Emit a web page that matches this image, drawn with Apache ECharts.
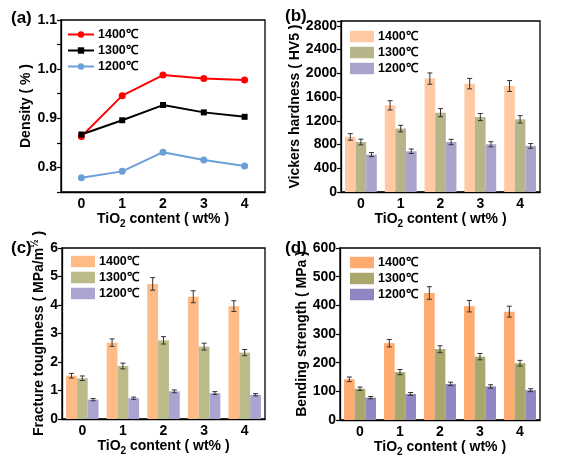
<!DOCTYPE html>
<html><head><meta charset="utf-8">
<script src="https://cdn.jsdelivr.net/npm/echarts@6/dist/echarts.min.js"></script>
<style>html,body{margin:0;padding:0;background:#fff}#c{width:580px;height:472px}</style>
</head><body><div id="c"></div>
<script>
const categories = ['0', '1', '2', '3', '4'];
const tempLabels = ['1400℃', '1300℃', '1200℃'];

// (a) Density
const density1400 = [0.863, 0.946, 0.988, 0.981, 0.978];
const density1300 = [0.867, 0.896, 0.927, 0.912, 0.903];
const density1200 = [0.779, 0.792, 0.831, 0.815, 0.803];

// (b) Vickers hardness
const hv1400 = [928, 1460, 1910, 1825, 1785];
const hv1300 = [842, 1068, 1336, 1262, 1224];
const hv1200 = [630, 686, 842, 804, 776];
const hvErr1400 = [55, 78, 95, 88, 92];
const hvErr1300 = [48, 55, 68, 60, 62];
const hvErr1200 = [34, 38, 45, 43, 40];

// (c) Fracture toughness
const kic1400 = [1.52, 2.68, 4.74, 4.29, 3.96];
const kic1300 = [1.43, 1.86, 2.76, 2.54, 2.33];
const kic1200 = [0.68, 0.73, 0.97, 0.91, 0.85];
const kicErr1400 = [0.08, 0.13, 0.22, 0.21, 0.19];
const kicErr1300 = [0.08, 0.10, 0.13, 0.12, 0.11];
const kicErr1200 = [0.04, 0.04, 0.05, 0.05, 0.04];

// (d) Bending strength
const bs1400 = [142, 268, 443, 397, 378];
const bs1300 = [109, 167, 247, 221, 198];
const bs1200 = [78, 91, 126, 117, 104];
const bsErr1400 = [8, 13, 22, 20, 19];
const bsErr1300 = [6, 9, 12, 11, 10];
const bsErr1200 = [4, 5, 6, 6, 5];

const FONT = 'Liberation Sans';
const txt = {fontFamily: FONT, fontWeight: 'bold', color: '#000'};

const grids = [
  {left: 61, top: 20, width: 204, height: 172},
  {left: 341, top: 21, width: 199, height: 171},
  {left: 62, top: 248, width: 203, height: 171},
  {left: 340, top: 248, width: 200, height: 172}
].map(g => Object.assign(g, {show: true, borderColor: '#000', borderWidth: 1.3, backgroundColor: 'transparent'}));

const xName = 'TiO{sub|2} content ( wt% )';
const xAxes = [0, 1, 2, 3].map(i => ({
  type: 'category', gridIndex: i, data: categories, boundaryGap: true,
  axisLine: {lineStyle: {color: '#000', width: 1.3}},
  axisTick: {alignWithLabel: true, length: 4, lineStyle: {color: '#000', width: 1.2}},
  axisLabel: Object.assign({fontSize: 14, margin: 5}, txt),
  name: xName, nameLocation: 'middle', nameGap: 18,
  nameTextStyle: Object.assign({fontSize: 14, rich: {
    sub: {fontFamily: FONT, fontWeight: 'bold', fontSize: 10, color: '#000', padding: [9, 0, 0, 0]}
  }}, txt)
}));

function yAxis(i, min, max, interval, name, gap, fmt, rich) {
  return {
    type: 'value', gridIndex: i, min: min, max: max, interval: interval,
    splitLine: {show: false},
    axisLine: {show: true, lineStyle: {color: '#000', width: 1.3}},
    axisTick: {show: true, length: 4, lineStyle: {color: '#000', width: 1.2}},
    axisLabel: Object.assign({fontSize: 14, margin: 4, formatter: fmt}, txt),
    name: name, nameLocation: 'middle', nameGap: gap,
    nameTextStyle: Object.assign({fontSize: 14, rich: rich || {}}, txt)
  };
}
const yAxes = [
  yAxis(0, 0.75, 1.1, 0.05, 'Density ( % )', 27, v => {
    const t = Math.round(v * 100);
    return (t % 10 === 0) ? (v).toFixed(1) : '';
  }),
  yAxis(1, 0, 2880, 400, 'Vickers hardness ( HV5 )', 38, v => (v % 400 === 0 ? String(v) : '')),
  yAxis(2, 0, 6, 1, 'Fracture toughness ( MPa/m{sup|½} )', 13, v => String(v), {
    sup: {fontFamily: FONT, fontWeight: 'bold', fontSize: 10, color: '#000', padding: [0, 0, 8, 0]}
  }),
  yAxis(3, 0, 600, 100, 'Bending strength ( MPa )', 31, v => String(v))
];

const series = [];
// (a) lines
const lineSets = [
  ['a1400', density1400, '#FF0000', 'circle'],
  ['a1300', density1300, '#000000', 'rect'],
  ['a1200', density1200, '#6A9FD8', 'circle']
];
lineSets.forEach(s => series.push({
  type: 'line', name: s[0], xAxisIndex: 0, yAxisIndex: 0, data: s[1],
  symbol: s[3], symbolSize: s[3] === 'rect' ? 6 : 7,
  lineStyle: {color: s[2], width: 1.9}, itemStyle: {color: s[2]}, z: 3
}));

function addBars(panel, gi, vals, errs, colors) {
  vals.forEach((v, k) => {
    series.push({
      type: 'bar', name: panel + tempLabels[k].slice(0, 4), xAxisIndex: gi, yAxisIndex: gi,
      data: v, barGap: 0, barCategoryGap: '20%', itemStyle: {color: colors[k]}
    });
  });
  vals.forEach((v, k) => {
    series.push({
      type: 'custom', name: 'err' + panel + k, xAxisIndex: gi, yAxisIndex: gi, z: 5,
      data: v.map((val, i) => [i, val, errs[k][i]]),
      renderItem: function (params, api) {
        const cat = api.value(0), val = api.value(1), e = api.value(2);
        const c = api.coord([cat, val]);
        const bw = api.size([1, 0])[0] * 0.8 / 3;
        const x = c[0] + (k - 1) * bw;
        const yt = api.coord([cat, val + e])[1];
        const yb = api.coord([cat, val - e])[1];
        const st = {stroke: '#333', lineWidth: 1};
        return {type: 'group', children: [
          {type: 'line', shape: {x1: x, y1: yt, x2: x, y2: yb}, style: st},
          {type: 'line', shape: {x1: x - 2.5, y1: yt, x2: x + 2.5, y2: yt}, style: st},
          {type: 'line', shape: {x1: x - 2.5, y1: yb, x2: x + 2.5, y2: yb}, style: st}
        ]};
      }
    });
  });
}
addBars('b', 1, [hv1400, hv1300, hv1200], [hvErr1400, hvErr1300, hvErr1200], ['#FFC9A3', '#B6B58A', '#ABA3CC']);
addBars('c', 2, [kic1400, kic1300, kic1200], [kicErr1400, kicErr1300, kicErr1200], ['#FFBB85', '#BBBA89', '#ABA4D0']);
addBars('d', 3, [bs1400, bs1300, bs1200], [bsErr1400, bsErr1300, bsErr1200], ['#FFAA6E', '#A9A76C', '#8F86C2']);

function legend(prefix, left, top, isLine) {
  return {
    data: ['1400', '1300', '1200'].map(t => prefix + t),
    left: left, top: top, orient: 'vertical', itemGap: 3,
    itemWidth: isLine ? 26 : 24, itemHeight: isLine ? 8 : 11.5,
    icon: isLine ? undefined : 'rect',
    formatter: n => n.slice(1) + '℃',
    textStyle: Object.assign({fontSize: 12.5, padding: [0, 0, 0, -1]}, txt),
    selectedMode: false
  };
}

const titleStyle = Object.assign({fontSize: 17}, txt);
const option = {
  animation: false,
  backgroundColor: '#fff',
  title: [
    {text: '(a)', left: 6, top: 5, textStyle: titleStyle},
    {text: '(b)', left: 280, top: 3, textStyle: titleStyle},
    {text: '(c)', left: 6, top: 235, textStyle: titleStyle},
    {text: '(d)', left: 280, top: 235, textStyle: titleStyle}
  ],
  legend: [
    legend('a', 62, 23, true),
    legend('b', 345, 25, false),
    legend('c', 66, 250, false),
    legend('d', 345, 251, false)
  ],
  grid: grids, xAxis: xAxes, yAxis: yAxes, series: series
};
const chart = echarts.init(document.getElementById('c'));
chart.setOption(option);
</script></body></html>
